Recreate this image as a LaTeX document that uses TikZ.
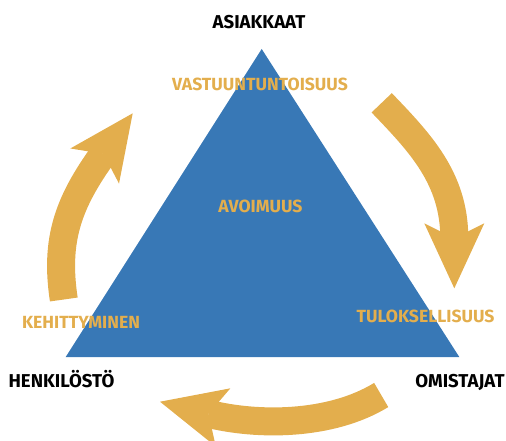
\documentclass[tikz,border=0pt]{standalone}
\usepackage{fontspec}
\setmainfont{Fira Sans}
\usepackage{tikz}
\usetikzlibrary{arrows.meta}

\definecolor{pyramidblue}{RGB}{56,120,182}
\definecolor{cyclegold}{RGB}{227,174,77}

\tikzset{
  corner/.style={anchor=base,inner sep=0pt,font=\bfseries\fontsize{18.6}{20}\selectfont},
  value/.style={anchor=base,inner sep=0pt,text=cyclegold,font=\bfseries\fontsize{17.6}{20}\selectfont},
  cyclearrow/.style={draw=cyclegold,line width=28pt,
    -{Stealth[length=65pt,width=60pt,inset=15pt,line width=0pt,color=cyclegold]}}
}

\begin{document}
\begin{tikzpicture}[x=1pt,y=1pt]
\useasboundingbox (0,0) rectangle (506,-441);
\clip (0,0) rectangle (506,-441);
% the triangle
\fill[pyramidblue] (261.7,-49) -- (459.3,-357) -- (65.7,-357) -- cycle;
% the three arrows round it
\draw[cyclearrow] (381.7,-102.8) .. controls (419.6,-142.4) and (454.3,-178) .. (454.3,-288.3);
\draw[cyclearrow] (381.2,-395) .. controls (330.2,-426.2) and (257,-425.9) .. (160,-401.7);
\draw[cyclearrow] (63.8,-299.5) .. controls (54.8,-240) and (68,-203) .. (132.7,-113.3);
% the corners
\node[corner] (asiakkaat) at (259,-28.3) {ASIAKKAAT};
\node[corner] (henkilosto) at (61.5,-387.3) {HENKILÖSTÖ};
\node[corner] (omistajat) at (460,-387.3) {OMISTAJAT};
% the values
\node[value] (vastuu) at (260,-90.7) {VASTUUNTUNTOISUUS};
\node[value] (avoimuus) at (260.5,-212.3) {AVOIMUUS};
\node[value] (kehitys) at (81,-328.3) {KEHITTYMINEN};
\node[value] (tulos) at (425.5,-322.7) {TULOKSELLISUUS};
\end{tikzpicture}
\end{document}
